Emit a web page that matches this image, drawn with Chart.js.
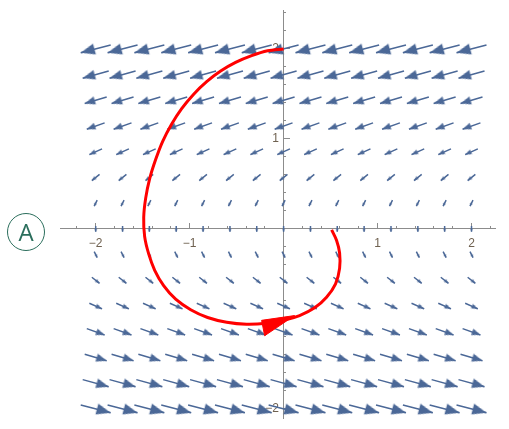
<!DOCTYPE html>
<html>
<head>
<meta charset="utf-8">
<script src="https://cdn.jsdelivr.net/npm/chart.js@4.4.0/dist/chart.umd.min.js"></script>
<style>
  html, body { margin: 0; padding: 0; background: #fff; }
  #wrap { position: relative; width: 509px; height: 429px; }
  #myChart { display: block; }
  #badge {
    position: absolute; left: 7px; top: 213px; width: 38px; height: 38px;
    box-sizing: border-box; border: 1.5px solid #2b6e5c; border-radius: 50%;
    color: #2b6e5c; font: 24px "Open Sans", sans-serif; text-align: center; line-height: 35px;
  }
</style>
</head>
<body>
<div id="wrap">
  <canvas id="myChart" width="509" height="429"></canvas>
  <div id="badge">A</div>
</div>
<script>
// grid of the vector field (arrows are the same along each row)
var gridX = [-2, -1.714, -1.429, -1.143, -0.857, -0.571, -0.286, 0, 0.286, 0.571, 0.857, 1.143, 1.429, 1.714, 2];
var rowY  = [2, 1.714, 1.429, 1.143, 0.857, 0.571, 0.286, 0, -0.286, -0.571, -0.857, -1.143, -1.429, -1.714, -2];
// arrow vector per row (data units)
var rowU  = [-0.319, -0.277, -0.234, -0.19, -0.135, -0.082, -0.032, 0, 0.032, 0.082, 0.135, 0.19, 0.234, 0.277, 0.319];
var rowV  = [-0.086, -0.079, -0.072, -0.07, -0.063, -0.068, -0.067, -0.064, -0.067, -0.068, -0.063, -0.07, -0.072, -0.079, -0.086];

// red trajectory
var trajX = [0, -0.17, -0.34, -0.511, -0.67, -0.819, -0.957, -1.085, -1.191, -1.287, -1.362, -1.426, -1.468, -1.489, -1.479, -1.436, -1.372, -1.277, -1.149, -0.989, -0.809, -0.606, -0.394, -0.181, 0, 0.17, 0.33, 0.457, 0.553, 0.596, 0.596, 0.564, 0.511];
var trajY = [2, 1.979, 1.925, 1.85, 1.754, 1.636, 1.497, 1.337, 1.166, 0.973, 0.77, 0.556, 0.342, 0.128, -0.086, -0.278, -0.46, -0.631, -0.781, -0.898, -0.984, -1.037, -1.059, -1.048, -1.016, -0.963, -0.877, -0.759, -0.61, -0.439, -0.267, -0.128, -0.011];
// red arrow head (triangle corners)
var headX = [-0.234, 0.117, -0.202, -0.234];
var headY = [-1.016, -0.963, -1.187, -1.016];

var arrowColor = '#4b6897';
var axisColor = '#8c8c8c';
var labelColor = '#6f6150';
var PX = 94; // approx pixels per unit, only used to size arrow heads

var headCache = {};
function headFor(lenPx) {
  var key = Math.round(lenPx);
  if (headCache[key]) return headCache[key];
  var hl = Math.max(2.8, 0.46 * lenPx), hw = Math.max(2.6, 0.36 * lenPx);
  var c = document.createElement('canvas');
  var w = Math.ceil(hw) + 2, h = Math.ceil(hl) * 2 + 2;
  c.width = w; c.height = h;
  var g = c.getContext('2d');
  g.fillStyle = arrowColor;
  g.beginPath();
  g.moveTo(w / 2, h / 2);
  g.lineTo(w / 2 - hw / 2, h / 2 + hl);
  g.lineTo(w / 2 + hw / 2, h / 2 + hl);
  g.closePath();
  g.fill();
  headCache[key] = c;
  return c;
}

var shaftPts = [], tipPts = [], tipRot = [], tipImg = [];
for (var r = 0; r < rowY.length; r++) {
  for (var c = 0; c < gridX.length; c++) {
    var u = rowU[r], v = rowV[r];
    var tail = {x: gridX[c] - u / 2, y: rowY[r] - v / 2};
    var tip = {x: gridX[c] + u / 2, y: rowY[r] + v / 2};
    shaftPts.push(tail, tip, {x: tip.x, y: null});
    tipPts.push(tip);
    tipRot.push(Math.atan2(u, v) * 180 / Math.PI);
    tipImg.push(headFor(Math.hypot(u, v) * PX));
  }
}

var trajPts = trajX.map(function (x, i) { return {x: x, y: trajY[i]}; });
var headPts = headX.map(function (x, i) { return {x: x, y: headY[i]}; });

function onStep(v, step) { return Math.abs(v / step - Math.round(v / step)) < 1e-6; }
function numLabel(n) { return n < 0 ? '\u2212' + (-n) : '' + n; }
function xLabel(v) {
  if (!onStep(v, 1) || Math.round(v) === 0) return '';
  return numLabel(Math.round(v));
}
function yLabel(v) {
  // 0 is not labelled, -1 sits under the red arrow head
  if (!onStep(v, 1) || Math.round(v) === 0 || Math.round(v) === -1) return '';
  return numLabel(Math.round(v));
}
function tickCol(step) {
  return function (ctx) { return ctx.tick && onStep(ctx.tick.value, step) ? axisColor : 'rgba(0,0,0,0)'; };
}

var xMin = -2.38, xMax = 2.25, yMin = -2.11, yMax = 2.43;

const config = {
  type: 'scatter',
  data: {
    datasets: [
      { type: 'line', data: headPts, borderColor: '#ff0000', backgroundColor: '#ff0000', borderWidth: 1, pointRadius: 0, fill: 'shape', tension: 0 },
      { type: 'line', data: trajPts, borderColor: '#ff0000', borderWidth: 3, pointRadius: 0, fill: false, tension: 0.3 },
      { type: 'scatter', data: tipPts, pointRadius: 3,
        pointStyle: function (ctx) { return tipImg[ctx.dataIndex]; },
        rotation: function (ctx) { return tipRot[ctx.dataIndex]; } },
      { type: 'line', data: shaftPts, borderColor: arrowColor, borderWidth: 1.5, pointRadius: 0, fill: false, spanGaps: false, tension: 0 }
    ]
  },
  options: {
    responsive: false,
    animation: false,
    events: [],
    layout: { padding: { left: 60, right: 14, top: 5, bottom: 0 } },
    plugins: { legend: { display: false }, tooltip: { enabled: false } },
    scales: {
      x: {
        type: 'linear', min: xMin, max: xMax, position: { y: 0 },
        border: { color: axisColor, width: 1 },
        grid: { drawOnChartArea: false, tickLength: -3, tickColor: tickCol(0.2) },
        ticks: { stepSize: 0.2, includeBounds: false, autoSkip: false, maxRotation: 0, callback: function () { return ''; } }
      },
      xMajor: {
        axis: 'x', type: 'linear', min: xMin, max: xMax, position: { y: 0 }, z: 1,
        border: { display: false },
        grid: { drawOnChartArea: false, tickLength: -6, tickColor: tickCol(1) },
        ticks: { stepSize: 1, includeBounds: false, autoSkip: false, maxRotation: 0, padding: 14, color: labelColor,
          font: { family: 'Liberation Sans', size: 12 }, callback: xLabel }
      },
      y: {
        type: 'linear', min: yMin, max: yMax, position: { x: 0 },
        border: { color: axisColor, width: 1 },
        grid: { drawOnChartArea: false, tickLength: -3, tickColor: tickCol(0.2) },
        ticks: { stepSize: 0.2, includeBounds: false, autoSkip: false, callback: function () { return ''; } }
      },
      yMajor: {
        axis: 'y', type: 'linear', min: yMin, max: yMax, position: { x: 0 },
        border: { display: false },
        grid: { drawOnChartArea: false, tickLength: -6, tickColor: tickCol(1) },
        ticks: { stepSize: 1, includeBounds: false, autoSkip: false, callback: function () { return ''; } }
      },
      yLabels: {
        axis: 'y', type: 'linear', min: yMin, max: yMax, position: { x: -0.05 }, z: 1,
        border: { display: false },
        grid: { display: false, drawTicks: false },
        ticks: { stepSize: 1, includeBounds: false, autoSkip: false, color: labelColor,
          font: { family: 'Liberation Sans', size: 12 }, callback: yLabel }
      }
    }
  }
};

const myChart = new Chart(document.getElementById('myChart'), config);
</script>
</body>
</html>
